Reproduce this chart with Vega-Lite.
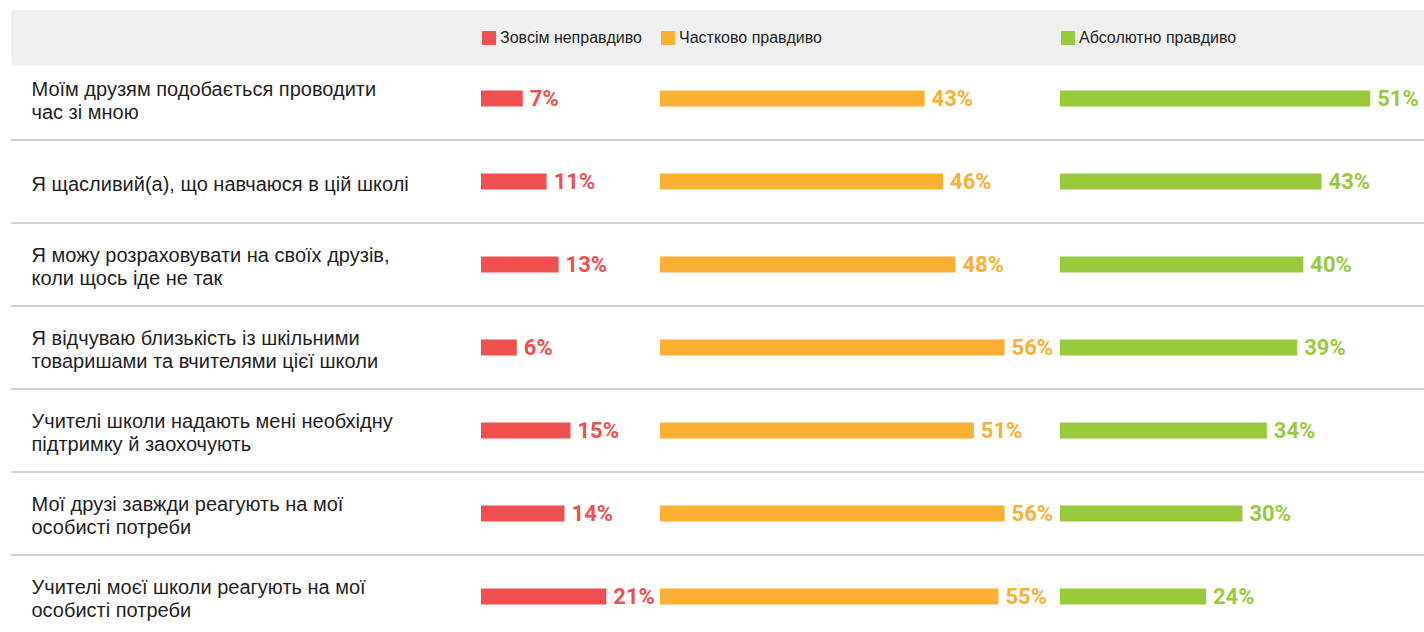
{
  "$schema": "https://vega.github.io/schema/vega-lite/v6.json",
  "padding": {"left": 10, "top": 10, "right": 0, "bottom": 0},
  "background": "#ffffff",
  "bounds": "flush",
  "spacing": 0,
  "config": {
    "view": {"stroke": null},
    "legend": {
      "orient": "top",
      "title": null,
      "direction": "horizontal",
      "symbolType": "square",
      "symbolSize": 196,
      "symbolStrokeWidth": 0,
      "symbolOpacity": 1,
      "labelFont": "Liberation Sans",
      "labelFontSize": 16,
      "labelColor": "#1f1f1f",
      "labelOffset": 3,
      "labelLimit": 400,
      "offset": 11,
      "padding": 0
    }
  },
  "datasets": {
    "survey": [
      {"statement": "Моїм друзям подобається проводити|час зі мною", "category": "Зовсім неправдиво", "value": 0.07},
      {"statement": "Я щасливий(а), що навчаюся в цій школі", "category": "Зовсім неправдиво", "value": 0.11},
      {"statement": "Я можу розраховувати на своїх друзів,|коли щось іде не так", "category": "Зовсім неправдиво", "value": 0.13},
      {"statement": "Я відчуваю близькість із шкільними|товаришами та вчителями цієї школи", "category": "Зовсім неправдиво", "value": 0.06},
      {"statement": "Учителі школи надають мені необхідну|підтримку й заохочують", "category": "Зовсім неправдиво", "value": 0.15},
      {"statement": "Мої друзі завжди реагують на мої|особисті потреби", "category": "Зовсім неправдиво", "value": 0.14},
      {"statement": "Учителі моєї школи реагують на мої|особисті потреби", "category": "Зовсім неправдиво", "value": 0.21},
      {"statement": "Моїм друзям подобається проводити|час зі мною", "category": "Частково правдиво", "value": 0.43},
      {"statement": "Я щасливий(а), що навчаюся в цій школі", "category": "Частково правдиво", "value": 0.46},
      {"statement": "Я можу розраховувати на своїх друзів,|коли щось іде не так", "category": "Частково правдиво", "value": 0.48},
      {"statement": "Я відчуваю близькість із шкільними|товаришами та вчителями цієї школи", "category": "Частково правдиво", "value": 0.56},
      {"statement": "Учителі школи надають мені необхідну|підтримку й заохочують", "category": "Частково правдиво", "value": 0.51},
      {"statement": "Мої друзі завжди реагують на мої|особисті потреби", "category": "Частково правдиво", "value": 0.56},
      {"statement": "Учителі моєї школи реагують на мої|особисті потреби", "category": "Частково правдиво", "value": 0.55},
      {"statement": "Моїм друзям подобається проводити|час зі мною", "category": "Абсолютно правдиво", "value": 0.51},
      {"statement": "Я щасливий(а), що навчаюся в цій школі", "category": "Абсолютно правдиво", "value": 0.43},
      {"statement": "Я можу розраховувати на своїх друзів,|коли щось іде не так", "category": "Абсолютно правдиво", "value": 0.40},
      {"statement": "Я відчуваю близькість із шкільними|товаришами та вчителями цієї школи", "category": "Абсолютно правдиво", "value": 0.39},
      {"statement": "Учителі школи надають мені необхідну|підтримку й заохочують", "category": "Абсолютно правдиво", "value": 0.34},
      {"statement": "Мої друзі завжди реагують на мої|особисті потреби", "category": "Абсолютно правдиво", "value": 0.30},
      {"statement": "Учителі моєї школи реагують на мої|особисті потреби", "category": "Абсолютно правдиво", "value": 0.24}
    ]
  },
  "vconcat": [
    {
      "width": 1414,
      "height": 47,
      "view": {"fill": "#f0f0f0", "stroke": null},
      "data": {"values": [{}]},
      "mark": {"type": "point", "opacity": 0},
      "encoding": {}
    },
    {
      "bounds": "flush",
      "spacing": 0,
      "resolve": {
        "scale": {"x": "independent", "y": "independent", "color": "independent"},
        "legend": {"color": "independent"}
      },
      "hconcat": [
        {
          "width": 470,
          "height": 581,
          "data": {"name": "survey"},
          "transform": [{"filter": "datum.category === 'Зовсім неправдиво'"}],
          "mark": {"type": "rule", "color": "#d0d0d0", "strokeWidth": 2},
          "encoding": {
            "x": {
              "datum": 0,
              "type": "quantitative",
              "scale": {"domain": [0, 1]},
              "axis": {"orient": "top", "title": null, "labels": false, "ticks": false, "grid": false, "domain": true, "domainColor": "#f0f0f0", "domainWidth": 16}
            },
            "x2": {"datum": 1},
            "y": {
              "field": "statement",
              "type": "nominal",
              "sort": null,
              "bandPosition": 1,
              "scale": {"paddingInner": 0, "paddingOuter": 0},
              "axis": {
                "orient": "left",
                "title": null,
                "domain": false,
                "ticks": false,
                "tickSize": 0,
                "grid": false,
                "labelPadding": -20,
                "labelAlign": "left",
                "labelBaseline": {"condition": {"test": "indexof(datum.value, '|') >= 0", "value": "line-bottom"}, "value": "middle"},
                "labelOffset": 3,
                "labelFont": "Liberation Sans",
                "labelFontSize": 20,
                "labelLineHeight": 23,
                "labelColor": "#1f1f1f",
                "labelLimit": 460,
                "labelOverlap": false,
                "labelExpr": "split(datum.label, '|')"
              }
            }
          }
        },
        {
          "width": 179,
          "height": 581,
          "data": {"name": "survey"},
          "transform": [{"filter": "datum.category === 'Зовсім неправдиво'"}],
          "encoding": {
            "y": {"field": "statement", "type": "nominal", "sort": null, "scale": {"paddingInner": 0, "paddingOuter": 0}, "axis": null}
          },
          "layer": [
            {
              "mark": {"type": "rule", "color": "#d0d0d0", "strokeWidth": 2},
              "encoding": {"y": {"field": "statement", "type": "nominal", "sort": null, "bandPosition": 1, "axis": null}}
            },
            {
              "mark": {"type": "bar", "size": 16},
              "encoding": {
                "x": {
                  "field": "value", "type": "quantitative", "scale": {"domain": [0, 0.3]},
                  "axis": {"orient": "top", "title": null, "labels": false, "ticks": false, "grid": false, "domain": true, "domainColor": "#f0f0f0", "domainWidth": 16}
                },
                "color": {"field": "category", "type": "nominal", "scale": {"range": ["#f04f4f"]}}
              }
            },
            {
              "mark": {"type": "text", "align": "left", "baseline": "middle", "dx": 7, "font": "Roboto", "fontWeight": "bold", "fontSize": 22, "color": "#f04f4f"},
              "encoding": {
                "x": {"field": "value", "type": "quantitative"},
                "text": {"field": "value", "type": "quantitative", "format": ".0%"}
              }
            }
          ]
        },
        {
          "width": 400,
          "height": 581,
          "data": {"name": "survey"},
          "transform": [{"filter": "datum.category === 'Частково правдиво'"}],
          "encoding": {
            "y": {"field": "statement", "type": "nominal", "sort": null, "scale": {"paddingInner": 0, "paddingOuter": 0}, "axis": null}
          },
          "layer": [
            {
              "mark": {"type": "rule", "color": "#d0d0d0", "strokeWidth": 2},
              "encoding": {"y": {"field": "statement", "type": "nominal", "sort": null, "bandPosition": 1, "axis": null}}
            },
            {
              "mark": {"type": "bar", "size": 16},
              "encoding": {
                "x": {
                  "field": "value", "type": "quantitative", "scale": {"domain": [0, 0.645]},
                  "axis": {"orient": "top", "title": null, "labels": false, "ticks": false, "grid": false, "domain": true, "domainColor": "#f0f0f0", "domainWidth": 16}
                },
                "color": {"field": "category", "type": "nominal", "scale": {"range": ["#fbb034"]}}
              }
            },
            {
              "mark": {"type": "text", "align": "left", "baseline": "middle", "dx": 7, "font": "Roboto", "fontWeight": "bold", "fontSize": 22, "color": "#fbb034"},
              "encoding": {
                "x": {"field": "value", "type": "quantitative"},
                "text": {"field": "value", "type": "quantitative", "format": ".0%"}
              }
            }
          ]
        },
        {
          "width": 365,
          "height": 581,
          "data": {"name": "survey"},
          "transform": [{"filter": "datum.category === 'Абсолютно правдиво'"}],
          "encoding": {
            "y": {"field": "statement", "type": "nominal", "sort": null, "scale": {"paddingInner": 0, "paddingOuter": 0}, "axis": null}
          },
          "layer": [
            {
              "mark": {"type": "rule", "color": "#d0d0d0", "strokeWidth": 2},
              "encoding": {"y": {"field": "statement", "type": "nominal", "sort": null, "bandPosition": 1, "axis": null}}
            },
            {
              "mark": {"type": "bar", "size": 16},
              "encoding": {
                "x": {
                  "field": "value", "type": "quantitative", "scale": {"domain": [0, 0.589]},
                  "axis": {"orient": "top", "title": null, "labels": false, "ticks": false, "grid": false, "domain": true, "domainColor": "#f0f0f0", "domainWidth": 16}
                },
                "color": {"field": "category", "type": "nominal", "scale": {"range": ["#99ca3c"]}}
              }
            },
            {
              "mark": {"type": "text", "align": "left", "baseline": "middle", "dx": 7, "font": "Roboto", "fontWeight": "bold", "fontSize": 22, "color": "#99ca3c"},
              "encoding": {
                "x": {"field": "value", "type": "quantitative"},
                "text": {"field": "value", "type": "quantitative", "format": ".0%"}
              }
            }
          ]
        }
      ]
    }
  ]
}
